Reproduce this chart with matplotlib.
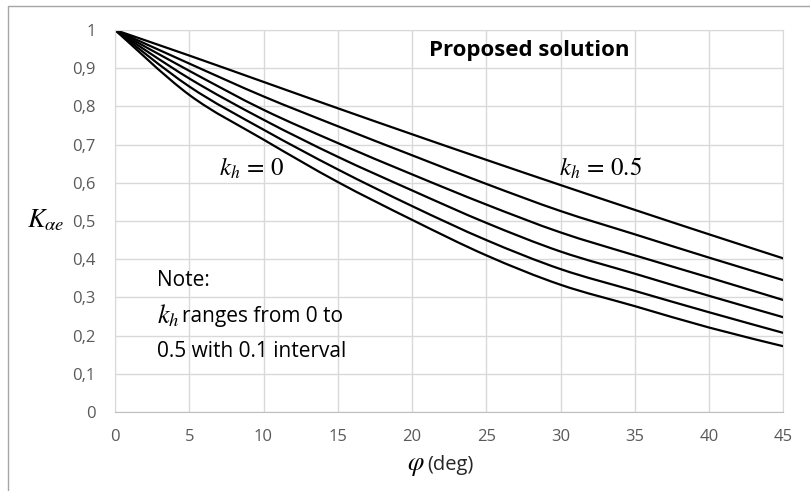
#plot.py : K_ae vs phi curves for kh = 0 .. 0.5
import matplotlib
matplotlib.use("Agg")
import matplotlib.pyplot as plt
from matplotlib.lines import Line2D
from matplotlib.path import Path
from matplotlib.patches import PathPatch
from matplotlib.ticker import FuncFormatter

# data
phi = [0, 5, 10, 15, 20, 25, 30, 35, 40, 45]
kh_labels = ["0", "0.1", "0.2", "0.3", "0.4", "0.5"]
K_kh00 = [1.0, 0.830, 0.713, 0.602, 0.503, 0.410, 0.333, 0.277, 0.221, 0.172]
K_kh01 = [1.0, 0.852, 0.739, 0.635, 0.539, 0.450, 0.374, 0.317, 0.261, 0.207]
K_kh02 = [1.0, 0.873, 0.765, 0.668, 0.580, 0.495, 0.420, 0.362, 0.304, 0.248]
K_kh03 = [1.0, 0.893, 0.791, 0.704, 0.622, 0.543, 0.470, 0.410, 0.352, 0.293]
K_kh04 = [1.0, 0.912, 0.826, 0.748, 0.672, 0.597, 0.526, 0.465, 0.404, 0.345]
K_kh05 = [1.0, 0.933, 0.864, 0.795, 0.727, 0.660, 0.594, 0.529, 0.465, 0.402]

x_ticks = [0, 5, 10, 15, 20, 25, 30, 35, 40, 45]
y_ticks = [0, 0.1, 0.2, 0.3, 0.4, 0.5, 0.6, 0.7, 0.8, 0.9, 1.0]

plt.rcParams["font.family"] = ["Open Sans", "DejaVu Sans"]
plt.rcParams["mathtext.fontset"] = "stix"


def smooth_path(xs, ys):
    # excel "smoothed line": cubic bezier through each point (catmull-rom)
    pts = list(zip(xs, ys))
    verts = [pts[0]]
    codes = [Path.MOVETO]
    n = len(pts)
    for i in range(n - 1):
        p0 = pts[i - 1] if i > 0 else pts[i]
        p1 = pts[i]
        p2 = pts[i + 1]
        p3 = pts[i + 2] if i + 2 < n else pts[i + 1]
        c1 = (p1[0] + (p2[0] - p0[0]) / 6, p1[1] + (p2[1] - p0[1]) / 6)
        c2 = (p2[0] - (p3[0] - p1[0]) / 6, p2[1] - (p3[1] - p1[1]) / 6)
        verts += [c1, c2, p2]
        codes += [Path.CURVE4] * 3
    return Path(verts, codes)


fig = plt.figure(figsize=(8.1, 4.91), dpi=100)
ax = fig.add_axes([0.142, 0.161, 0.825, 0.778])

for series in [K_kh00, K_kh01, K_kh02, K_kh03, K_kh04, K_kh05]:
    ax.add_patch(PathPatch(smooth_path(phi, series), fill=False,
                           edgecolor="black", lw=1.6, capstyle="round"))

ax.set_xlim(0, 45)
ax.set_ylim(0, 1)
ax.set_xticks(x_ticks)
ax.set_yticks(y_ticks)

# excel style decimal comma
def comma(v, pos):
    s = f"{v:.1f}".rstrip("0").rstrip(".")
    return s.replace(".", ",")
ax.yaxis.set_major_formatter(FuncFormatter(comma))

ax.grid(True, color="#d9d9d9", lw=1.0)
ax.set_axisbelow(True)
for side in ["left", "right", "top"]:
    ax.spines[side].set_color("#d9d9d9")
ax.spines["bottom"].set_color("#bfbfbf")
ax.tick_params(length=0, labelsize=12, labelcolor="#595959")
ax.tick_params(axis="y", pad=14)
ax.tick_params(axis="x", pad=12)

# axis titles
fig.text(46 / 810, 1 - 221 / 491, r"$K_{\alpha e}$", fontsize=19,
         ha="center", va="center")
fig.text(425 / 810, 1 - 465 / 491, r"$\varphi$", fontsize=19,
         ha="right", va="center")
fig.text(427 / 810, 1 - 465 / 491, "(deg)", fontsize=14.5,
         ha="left", va="center", color="#262626")

# annotations
ax.text(0.470, 0.945, "Proposed solution", transform=ax.transAxes,
        fontsize=16, fontweight="bold", ha="left", va="center")
ax.text(0.665, 0.635, r"$k_h\,=\,0.5$", transform=ax.transAxes,
        fontsize=18, ha="left", va="center")
ax.text(0.155, 0.635, r"$k_h\,=\,0$", transform=ax.transAxes,
        fontsize=18, ha="left", va="center")
ax.text(0.063, 0.345, "Note:", transform=ax.transAxes,
        fontsize=15, ha="left", va="center")
ax.text(0.063, 0.250, r"$k_h$", transform=ax.transAxes,
        fontsize=19, ha="left", va="center")
ax.text(0.100, 0.250, "ranges from 0 to", transform=ax.transAxes,
        fontsize=15, ha="left", va="center")
ax.text(0.063, 0.158, "0.5 with 0.1 interval", transform=ax.transAxes,
        fontsize=15, ha="left", va="center")

# chart area border (cropped at right/bottom)
fig.add_artist(Line2D([8 / 810, 8 / 810, 1], [0, 1 - 6 / 491, 1 - 6 / 491],
                      transform=fig.transFigure, color="#a6a6a6", lw=1.0))

plt.savefig("out.png", dpi=100)
